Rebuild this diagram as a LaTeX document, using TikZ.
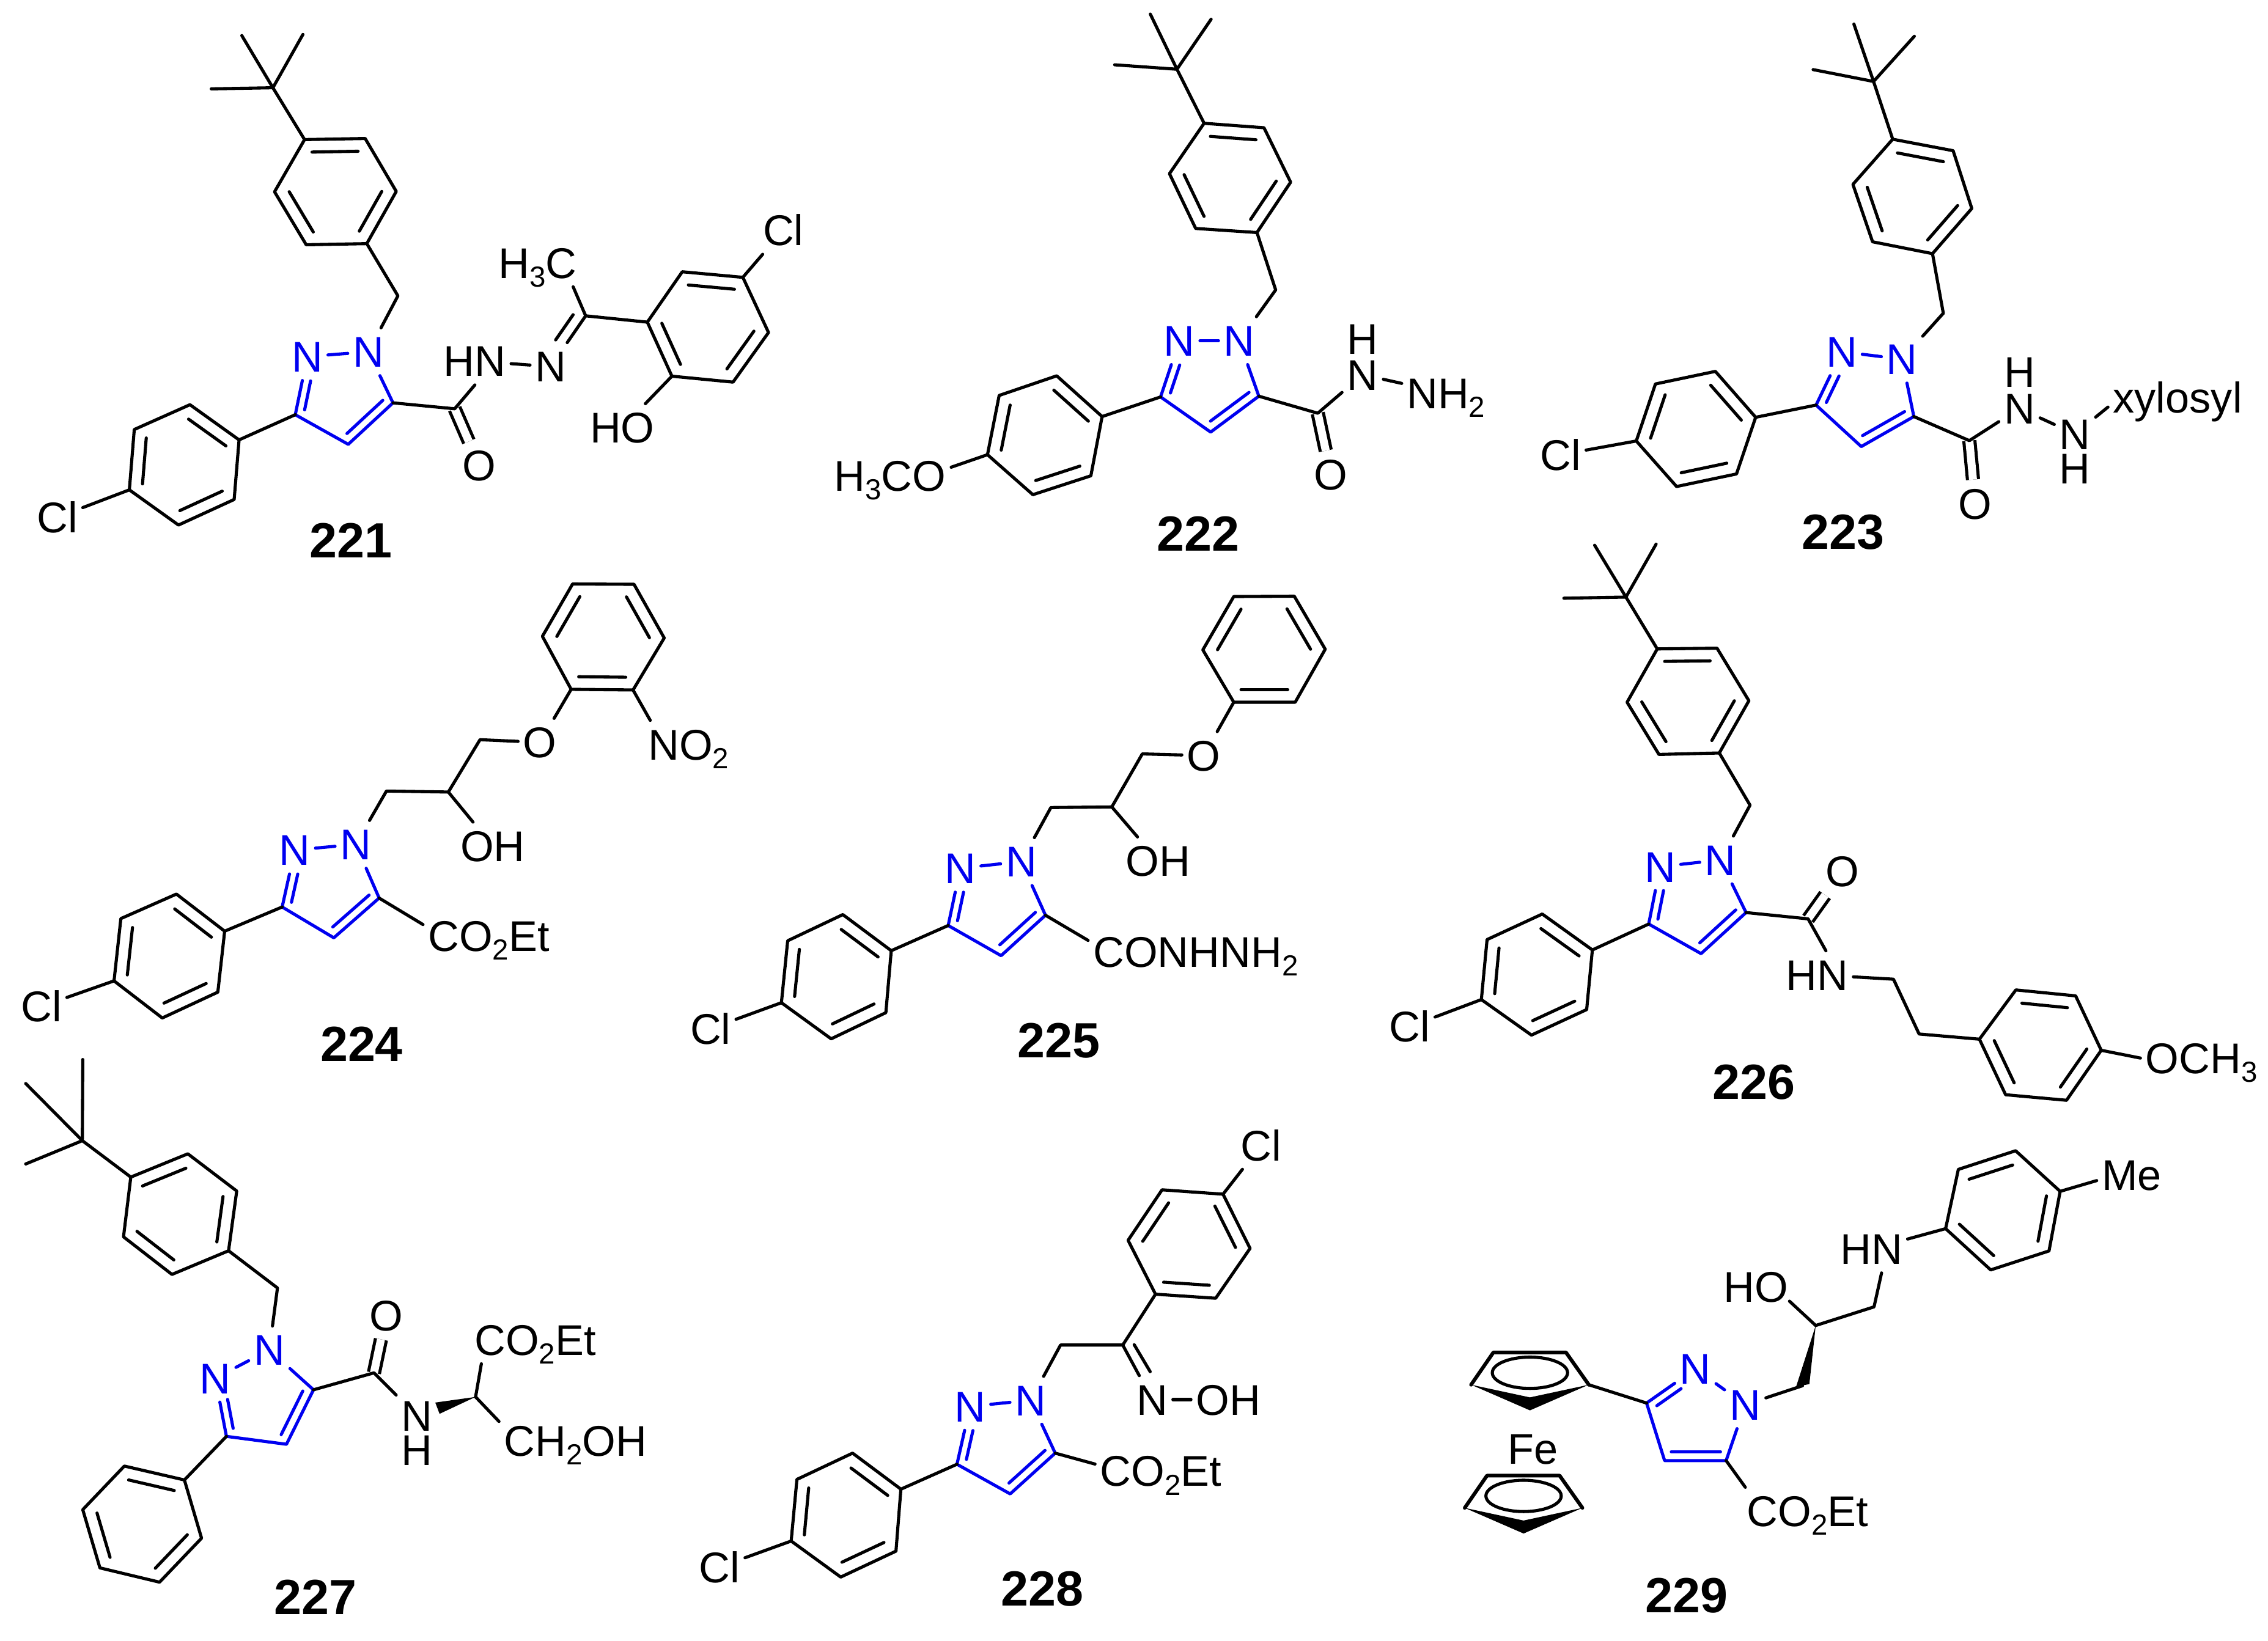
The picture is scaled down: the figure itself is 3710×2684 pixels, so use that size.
\documentclass[tikz,border=0pt]{standalone}
\usepackage{fontspec}
\setmainfont{Liberation Sans}
\usetikzlibrary{calc}
\definecolor{pyrblue}{RGB}{0,0,240}
\newcommand{\lo}[1]{\raisebox{-0.2em}{\fontsize{13.5}{15}\selectfont #1}}
\tikzset{
	panel/.style n args={4}{shift={(#1,#2)},x=0.01cm*#3/1568,y=-0.01cm*#4/1568},
	bond/.style={line width=1.45pt,line cap=round,line join=round},
	bluebond/.style={bond,color=pyrblue},
	dblbond/.style={line width=1.45pt,double,double distance=3.7pt},
	atom/.style={font=\fontsize{20}{23}\selectfont,inner xsep=2.2pt,inner ysep=3.8pt,text height=14.3pt,text depth=0pt},
	hatom/.style={atom,inner sep=0pt,text height=13pt},
	numlabel/.style={font=\fontsize{23}{26}\selectfont\bfseries,inner sep=0pt,text height=16.5pt,text depth=0pt}
}
% anello benzenico: doppi legami su ab, cd, ef
\newcommand{\arene}[7]{
	\coordinate (#1a) at (#2);
	\coordinate (#1b) at (#3);
	\coordinate (#1c) at (#4);
	\coordinate (#1d) at (#5);
	\coordinate (#1e) at (#6);
	\coordinate (#1f) at (#7);
	\coordinate (#1o) at ($(#1a)!0.5!(#1d)$);
	\draw[bond] (#1a) -- (#1b) -- (#1c) -- (#1d) -- (#1e) -- (#1f) -- cycle;
	\foreach \p/\q in {a/b,c/d,e/f}
		\draw[bond] ($(#1\p)!0.24!(#1o)$) -- ($(#1\q)!0.24!(#1o)$);
}
% pirazolo: C3, N2, N1, C5, C4
\newcommand{\pyrazole}[6]{
	\coordinate (#1c3) at (#2);
	\node[atom,text=pyrblue] (#1n2) at (#3) {N};
	\node[atom,text=pyrblue] (#1n1) at (#4) {N};
	\coordinate (#1c5) at (#5);
	\coordinate (#1c4) at (#6);
	\coordinate (#1o) at ($(#1c4)!0.6!($(#1n2)!0.5!(#1n1)$)$);
	\draw[bluebond] (#1n2) -- (#1n1);
	\draw[bluebond] (#1n1) -- (#1c5) -- (#1c4) -- (#1c3) -- (#1n2);
	\draw[bluebond] ($(#1c5)!0.2!(#1o)$) -- ($(#1c4)!0.2!(#1o)$);
	\coordinate (#1i) at ($(#1c3)!0.2!(#1o)$);
	\draw[bluebond] (#1i) -- ($(#1i)!0.62!($(#1n2)!0.2!(#1o)$)$);
}
% terz-butile
\newcommand{\tbutyl}[5]{
	\coordinate (#1q) at (#2);
	\coordinate (#1q1) at (#3);
	\coordinate (#1q2) at (#4);
	\coordinate (#1q3) at (#5);
	\draw[bond] (#1q1) -- (#1q);
	\draw[bond] (#1q2) -- (#1q);
	\draw[bond] (#1q3) -- (#1q);
}
% ciclopentadienile
\newcommand{\cpring}[2]{
	\begin{scope}[shift={(#2)}]
		\coordinate (#1r) at (111,48);
		\coordinate (#1l) at (-111,48);
		\coordinate (#1t) at (0,125);
		\draw[bond,line width=1.7pt] (#1l) -- (-69,-49) -- (68,-49) -- (#1r);
		\fill (#1l) -- (0,86) -- (#1r) -- (#1t) -- cycle;
		\draw[bond] (0,12) ellipse [x radius=71, y radius=47];
	\end{scope}
}
\begin{document}
\begin{tikzpicture}[x=0.01cm,y=-0.01cm]
	\path[use as bounding box] (0,0) rectangle (3710,2684);

	% 221
	\begin{scope}[panel={0}{0}{1400}{950}]
		\tbutyl{ma}{500,237}{443,96}{555,93}{387,240}
		\arene{mat}{558,377}{669,374}{726,517}{672,658}{561,661}{503,518}
		\arene{mac}{438,1188}{348,1093}{246,1160}{237,1323}{327,1418}{429,1349}
		\arene{mar}{1250,734}{1361,749}{1408,898}{1343,1032}{1231,1016}{1186,870}
		\pyrazole{map}{541,1120}{563,963}{675,950}{720,1088}{638,1200}
		\coordinate (mach) at (729,799);
		\coordinate (macarb) at (833,1104);
		\coordinate (macn) at (1073,853);
		\node[atom] (macl) at (105,1397) {Cl};
		\node[atom] (mao) at (878,1257) {O};
		\node[atom] (mahn) at (870,975) {HN};
		\node[atom] (man) at (1009,990) {N};
		\node[atom] (mame) at (985,710) {H\lo{3}C};
		\node[atom] (macl2) at (1435,622) {Cl};
		\node[atom] (maho) at (1140,1155) {HO};
		\draw[dblbond] (macarb) -- (mao);
		\draw[bond] (maq) -- (mata);
		\draw[bond] (matd) -- (mach) -- (mapn1);
		\draw[bond] (mapc3) -- (maca);
		\draw[bond] (macd) -- (macl);
		\draw[bond] (mapc5) -- (macarb) -- (mahn.south);
		\draw[bond] (mahn) -- (man);
		\draw[bond] (macn) -- (man);
		\coordinate (maia) at (1050,850);
		\coordinate (maib) at (1018,918);
		\draw[bond] (maia) -- (maib);
		\draw[bond] (macn) -- (mame.-34);
		\draw[bond] (macn) -- (marf);
		\draw[bond] (marb) -- (macl2);
		\draw[bond] (mare) -- (maho);
		\node[numlabel] (malab) at (643,1458) {221};
	\end{scope}

	% 222
	\begin{scope}[panel={1300}{0}{1200}{950}]
		\tbutyl{mb}{817,187}{760,38}{890,52}{684,175}
		\arene{mbt}{875,333}{1003,345}{1060,492}{988,628}{857,617}{801,469}
		\arene{mbc}{657,1125}{560,1015}{437,1068}{412,1228}{509,1336}{633,1285}
		\pyrazole{mbp}{782,1072}{822,920}{950,920}{992,1070}{889,1167}
		\coordinate (mbch) at (1028,783);
		\coordinate (mbcarb) at (1118,1116);
		\node[atom] (mbome) at (204,1285) {H\lo{3}CO};
		\node[atom] (mbo) at (1146,1282) {O};
		\node[hatom] (mbh) at (1214,918) {H};
		\node[atom] (mbn) at (1214,1012) {N};
		\node[atom] (mbnh) at (1392,1062) {NH\lo{2}};
		\draw[dblbond] (mbcarb) -- (mbo);
		\draw[bond] (mbq) -- (mbta);
		\draw[bond] (mbtd) -- (mbch) -- (mbpn1);
		\draw[bond] (mbpc3) -- (mbca);
		\draw[bond] (mbcd) -- (mbome.8);
		\draw[bond] (mbpc5) -- (mbcarb) -- (mbn);
		\draw[bond] (mbn) -- (mbnh);
		\node[numlabel] (mblab) at (862,1440) {222};
	\end{scope}

	% 223
	\begin{scope}[panel={2450}{0}{1260}{950}]
		\tbutyl{mc}{765,220}{725,65}{848,98}{642,188}
		\arene{mct}{804,376}{927,407}{965,563}{885,685}{763,653}{723,498}
		\arene{mcc}{525,1127}{443,1003}{321,1037}{282,1191}{364,1314}{486,1280}
		\pyrazole{mcp}{648,1094}{700,950}{823,970}{847,1125}{740,1206}
		\coordinate (mcch) at (907,846);
		\coordinate (mccarb) at (960,1190);
		\node[atom] (mccl) at (128,1228) {Cl};
		\node[atom] (mco) at (972,1360) {O};
		\node[hatom] (mch) at (1062,1008) {H};
		\node[atom] (mcn) at (1062,1103) {N};
		\node[atom] (mcnb) at (1175,1172) {N};
		\node[hatom] (mchb) at (1175,1268) {H};
		\node[atom] (mcxy) at (1384,1073) {xylosyl};
		\draw[dblbond] (mccarb) -- (mco);
		\draw[bond] (mcq) -- (mcta);
		\draw[bond] (mctd) -- (mcch) -- (mcpn1);
		\draw[bond] (mcpc3) -- (mcca);
		\draw[bond] (mccd) -- (mccl);
		\draw[bond] (mcpc5) -- (mccarb) -- (mcn);
		\draw[bond] (mcn) -- (mcnb);
		\draw[bond] (mcnb) -- (mcxy.-172);
		\node[numlabel] (mclab) at (703,1435) {223};
	\end{scope}

	% 224
	\begin{scope}[panel={0}{930}{1250}{850}]
		\arene{mdt}{1301,48}{1363,210}{1299,367}{1172,365}{1113,205}{1175,47}
		\arene{mdc}{461,1095}{362,983}{248,1057}{234,1245}{333,1357}{447,1279}
		\pyrazole{mdp}{579,1022}{605,850}{730,833}{778,995}{685,1115}
		\coordinate (mdxa) at (793,672);
		\coordinate (mdxb) at (920,675);
		\coordinate (mdxc) at (985,517);
		\node[atom] (mdo) at (1108,525) {O};
		\node[atom] (mdno) at (1413,531) {NO\lo{2}};
		\node[atom] (mdoh) at (1011,838) {OH};
		\node[atom] (mdcl) at (85,1322) {Cl};
		\node[atom] (mdes) at (1003,1110) {CO\lo{2}Et};
		\draw[bond] (mdpn1) -- (mdxa) -- (mdxb) -- (mdxc) -- (mdo);
		\draw[bond] (mdtd) -- (mdo);
		\draw[bond] (mdtc) -- (mdno.148);
		\draw[bond] (mdxb) -- (mdoh);
		\draw[bond] (mdpc3) -- (mdca);
		\draw[bond] (mdcd) -- (mdcl);
		\draw[bond] (mdpc5) -- (mdes.170);
		\node[numlabel] (mdlab) at (742,1435) {224};
	\end{scope}

	% 225
	\begin{scope}[panel={1100}{950}{1150}{850}]
		\arene{met}{1387,47}{1456,207}{1389,367}{1252,367}{1183,209}{1252,48}
		\arene{mec}{488,1117}{380,1008}{257,1087}{243,1274}{354,1383}{476,1304}
		\pyrazole{mep}{615,1041}{642,868}{778,848}{832,1010}{733,1132}
		\coordinate (mexa) at (844,685);
		\coordinate (mexb) at (980,683);
		\coordinate (mexc) at (1048,523);
		\node[atom] (meo) at (1185,528) {O};
		\node[atom] (meoh) at (1083,846) {OH};
		\node[atom] (mecl) at (85,1352) {Cl};
		\node[atom] (mees) at (1167,1120) {CONHNH\lo{2}};
		\draw[bond] (mepn1) -- (mexa) -- (mexb) -- (mexc) -- (meo);
		\draw[bond] (metd) -- (meo);
		\draw[bond] (mexb) -- (meoh);
		\draw[bond] (mepc3) -- (meca);
		\draw[bond] (mecd) -- (mecl);
		\draw[bond] (mepc5) -- (mees.174);
		\node[numlabel] (melab) at (862,1387) {225};
	\end{scope}

	% 226
	\begin{scope}[panel={2250}{880}{1460}{950}]
		\tbutyl{mf}{440,160}{385,20}{493,17}{331,163}
		\arene{mft}{495,300}{600,298}{656,440}{604,581}{498,585}{442,444}
		\arene{mfc}{381,1113}{293,1016}{196,1085}{186,1247}{274,1343}{371,1274}
		\arene{mfr}{1125,1221}{1230,1237}{1275,1384}{1214,1519}{1107,1504}{1061,1354}
		\pyrazole{mfp}{480,1043}{500,888}{606,870}{651,1012}{572,1123}
		\coordinate (mfch) at (658,722);
		\coordinate (mfcarb) at (760,1029);
		\coordinate (mfxa) at (910,1192);
		\coordinate (mfxb) at (955,1340);
		\node[atom] (mfcl) at (60,1320) {Cl};
		\node[atom] (mfo) at (820,900) {O};
		\node[atom] (mfhn) at (776,1180) {HN};
		\node[atom] (mfome) at (1451,1405) {OCH\lo{3}};
		\draw[dblbond] (mfcarb) -- (mfo);
		\draw[bond] (mfq) -- (mfta);
		\draw[bond] (mftd) -- (mfch) -- (mfpn1);
		\draw[bond] (mfpc3) -- (mfca);
		\draw[bond] (mfcd) -- (mfcl);
		\draw[bond] (mfpc5) -- (mfcarb) -- (mfhn.70);
		\draw[bond] (mfhn) -- (mfxa) -- (mfxb) -- (mfrf);
		\draw[bond] (mfrc) -- (mfome.west);
		\node[numlabel] (mflab) at (665,1468) {226};
	\end{scope}

	% 227
	\begin{scope}[panel={0}{1720}{1100}{964}]
		\tbutyl{mg}{192,238}{193,22}{60,86}{60,300}
		\arene{mgt}{305,335}{438,273}{552,372}{533,531}{401,594}{288,494}
		\arene{mgc}{430,1141}{290,1104}{193,1220}{233,1375}{372,1413}{470,1296}
		\pyrazole{mgp}{528,1025}{502,870}{628,795}{731,901}{668,1046}
		\coordinate (mgch) at (647,630);
		\coordinate (mgcarb) at (872,856);
		\coordinate (mgcs) at (1109,920);
		\coordinate (mgwa) at (1015,935);
		\coordinate (mgwb) at (1025,965);
		\node[atom] (mgo) at (900,703) {O};
		\node[atom] (mgn) at (972,970) {N};
		\node[hatom] (mgh) at (972,1065) {H};
		\node[atom] (mges) at (1248,768) {CO\lo{2}Et};
		\node[atom] (mgoh) at (1342,1036) {CH\lo{2}OH};
		\draw[dblbond] (mgcarb) -- (mgo);
		\draw[bond] (mgq) -- (mgta);
		\draw[bond] (mgtd) -- (mgch) -- (mgpn1);
		\draw[bond] (mgpc3) -- (mgca);
		\draw[bond] (mgpc5) -- (mgcarb) -- (mgn);
		\fill (mgcs) -- (mgwa) -- (mgwb) -- cycle;
		\draw[bond] (mgcs) -- (mges.204);
		\draw[bond] (mgcs) -- (mgoh.166);
		\node[numlabel] (mglab) at (735,1452) {227};
	\end{scope}

	% 228
	\begin{scope}[panel={1100}{1820}{1050}{864}]
		\arene{mht}{1345,243}{1411,404}{1327,552}{1180,540}{1113,380}{1196,230}
		\arene{mhc}{558,1119}{440,1012}{304,1090}{290,1273}{411,1380}{546,1303}
		\pyrazole{mhp}{695,1045}{727,873}{875,855}{935,1012}{825,1133}
		\coordinate (mhcn) at (1100,691);
		\coordinate (mhch) at (948,691);
		\node[atom] (mhcl) at (1438,98) {Cl};
		\node[atom] (mhn) at (1172,853) {N};
		\node[atom] (mhoh) at (1358,853) {OH};
		\node[atom] (mhcm) at (115,1350) {Cl};
		\node[atom] (mhes) at (1193,1065) {CO\lo{2}Et};
		\draw[bond] (mhta) -- (mhcl);
		\draw[bond] (mhtd) -- (mhcn) -- (mhch) -- (mhpn1);
		\draw[bond] (mhcn) -- (mhn);
		\coordinate (mhia) at (1128,690);
		\coordinate (mhib) at (1167,770);
		\draw[bond] (mhia) -- (mhib);
		\draw[bond] (mhn) -- (mhoh);
		\draw[bond] (mhpc3) -- (mhca);
		\draw[bond] (mhcd) -- (mhcm);
		\draw[bond] (mhpc5) -- (mhes.174);
		\node[numlabel] (mhlab) at (903,1412) {228};
	\end{scope}

	% 229
	\begin{scope}[panel={2350}{1830}{1360}{854}]
		\arene{mit}{1092,97}{984,153}{960,331}{1045,455}{1155,398}{1176,219}
		\pyrazole{mip}{396,855}{488,752}{582,860}{546,1028}{430,1028}
		\cpring{mia}{176,752}
		\cpring{mib}{164,1122}
		\coordinate (mixa) at (825,566);
		\coordinate (mixb) at (715,622);
		\coordinate (mixw) at (690,803);
		\coordinate (miwa) at (678,806);
		\coordinate (miwb) at (703,798);
		\node[atom] (mime) at (1311,170) {Me};
		\node[atom] (mihn) at (820,392) {HN};
		\node[atom] (mioh) at (602,505) {HO};
		\node[atom] (mife) at (182,993) {Fe};
		\node[atom] (mies) at (700,1180) {CO\lo{2}Et};
		\draw[bond] (mitf) -- (mime.-171);
		\draw[bond] (mitc) -- (mihn);
		\draw[bond] (mihn.-67) -- (mixa) -- (mixb);
		\draw[bond] (mixb) -- ($(mioh.south east)+(-7,-28)$);
		\fill (mixb) -- (miwa) -- (miwb) -- cycle;
		\draw[bond] (mixw) -- (mipn1);
		\draw[bond] (mipc3) -- (miar);
		\draw[bond] (mipc5) -- (mies.159);
		\node[numlabel] (milab) at (472,1432) {229};
	\end{scope}
\end{tikzpicture}
\end{document}
